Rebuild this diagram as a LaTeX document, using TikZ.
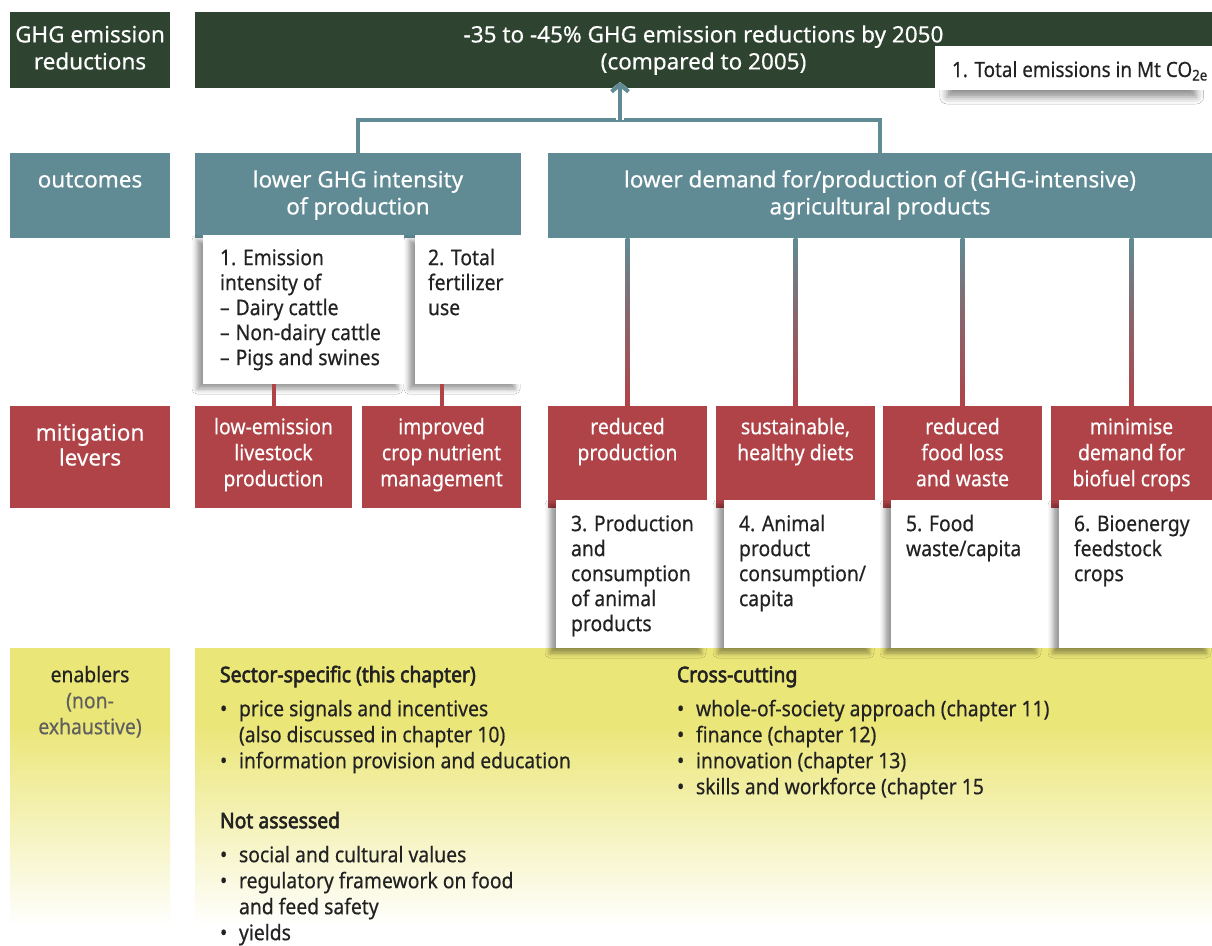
\documentclass[tikz,border=0pt]{standalone}
\usepackage{fontspec}
\setmainfont{Noto Sans}[FakeBold=0.4, BoldFont={Noto Sans}, BoldFeatures={FakeBold=2.6}]
\newfontfamily\condf{Noto Sans}[FakeStretch=0.9, FakeBold=0.4, BoldFont={Noto Sans}, BoldFeatures={FakeStretch=0.9, FakeBold=2.6}]
\usetikzlibrary{calc,arrows.meta,shadows.blur}
\definecolor{dkg}{RGB}{47,68,48}
\definecolor{tealc}{RGB}{96,139,148}
\definecolor{redc}{RGB}{176,67,72}
\definecolor{yelc}{RGB}{235,230,120}
\definecolor{txt}{RGB}{34,34,34}
\definecolor{greytxt}{RGB}{95,95,95}
\pgfdeclareverticalshading{ensh}{100bp}{color(0bp)=(white); color(28bp)=(white); color(45bp)=(yelc!50!white); color(62bp)=(yelc); color(100bp)=(yelc)}
\begin{document}
\begin{tikzpicture}[x=1pt,y=-1pt,
  every node/.style={inner sep=0pt, outer sep=0pt},
  box/.style={anchor=north west, draw=none},
  wbox/.style={anchor=north west, fill=white, blur shadow={shadow xshift=-6pt, shadow yshift=-5pt, shadow blur radius=5pt, shadow opacity=40}},
  head/.style={font=\fontsize{22.5}{27}\selectfont, text=white, align=center, anchor=north},
  redtxt/.style={font=\condf\fontsize{21.5}{26}\selectfont, text=white, align=center, anchor=north},
  wtxt/.style={font=\condf\fontsize{21.5}{25}\selectfont, text=txt, align=left, anchor=north west},
  entxt/.style={font=\condf\fontsize{21.5}{26}\selectfont, text=txt, align=left, anchor=north west},
  tline/.style={draw=tealc, line width=4pt},
  rline/.style={draw=redc, line width=4pt},
]
\useasboundingbox (0,0) rectangle (1212,945);
\fill[white] (0,0) rectangle (1212,945);

% row 1
\node[box, fill=dkg, minimum width=160pt, minimum height=76pt] (l1) at (10,12) {};
\node[box, fill=dkg, minimum width=1017pt, minimum height=76pt] (top) at (195,12) {};
% row 4 enablers
\node[box, shading=ensh, minimum width=160pt, minimum height=297pt] (l4) at (10,648) {};
\node[box, shading=ensh, minimum width=1017pt, minimum height=297pt] (en) at (195,648) {};
% row 3 red
\node[box, fill=redc, minimum width=160pt, minimum height=102pt] (l3) at (10,406) {};
\node[box, fill=redc, minimum width=157pt, minimum height=102pt] (m1) at (195,406) {};
\node[box, fill=redc, minimum width=159pt, minimum height=102pt] (m2) at (362,406) {};
\node[box, fill=redc, minimum width=159pt, minimum height=102pt] (m3) at (548,406) {};
\node[box, fill=redc, minimum width=159pt, minimum height=102pt] (m4) at (716,406) {};
\node[box, fill=redc, minimum width=159pt, minimum height=102pt] (m5) at (883,406) {};
\node[box, fill=redc, minimum width=161pt, minimum height=102pt] (m6) at (1051,406) {};
% row 2 teal
\node[box, fill=tealc, minimum width=160pt, minimum height=85pt] (l2) at (10,153) {};
\node[box, fill=tealc, minimum width=326pt, minimum height=85pt] (o1) at (195,153) {};
\node[box, fill=tealc, minimum width=664pt, minimum height=85pt] (o2) at (548,153) {};

% white indicator boxes
\node[anchor=north west, fill=white, blur shadow={shadow xshift=-2pt, shadow yshift=-10pt, shadow blur radius=8pt, shadow opacity=45, shadow scale=0.9}, minimum width=277pt, minimum height=44pt] (tot) at (935,46) {};
\node[wbox, minimum width=201pt, minimum height=149pt] (w1) at (203,235) {};
\node[wbox, minimum width=106pt, minimum height=149pt] (w2) at (415,235) {};
\node[wbox, minimum width=151pt, minimum height=148pt] (b3) at (556,500) {};
\node[wbox, minimum width=151pt, minimum height=148pt] (b4) at (724,500) {};
\node[wbox, minimum width=151pt, minimum height=148pt] (b5) at (891,500) {};
\node[wbox, minimum width=153pt, minimum height=148pt] (b6) at (1059,500) {};

% connectors
\coordinate (j) at (620,120);
\draw[tline] (o1.north) |- (j) -| (o2.north);
\draw[white, line width=8pt, -{Straight Barb[length=8pt, width=20pt, line width=8pt]}] (j) -- ($(j |- top.south)+(0,-6)$);
\draw[tline, -{Straight Barb[length=7pt, width=17pt, line width=4pt]}] (j) -- ($(j |- top.south)+(0,-6)$);
\draw[rline] (m1.north |- w1.south) -- (m1.north);
\draw[rline] (m2.north |- w2.south) -- (m2.north);
\foreach \m in {m3,m4,m5,m6}{
  \shade[top color=tealc, bottom color=redc, middle color=tealc!45!redc] ($(\m.north |- o2.south)+(-2,0)$) rectangle ($(\m.north)+(2,0)$);
}

% texts
\node[head] (tl1) at ($(l1.north)+(0,11.5)$) {\strut GHG emission\\reductions};
\node[head] (ttop) at ($(top.north)+(0,11.5)$) {\strut -35 to -45\% GHG emission reductions by 2050\\(compared to 2005)};
\node[font=\condf\fontsize{21}{25}\selectfont, text=txt, anchor=north west] (ttot) at ($(tot.north west)+(17,13.5)$) {\strut 1. Total emissions in Mt CO\textsubscript{2e}};
\node[head] (tl2) at ($(l2.north)+(0,15.5)$) {\strut outcomes};
\node[head] (to1) at ($(o1.north)+(0,15.5)$) {\strut lower GHG intensity\\of production};
\node[head] (to2) at ($(o2.north)+(0,15.5)$) {\strut lower demand for/production of (GHG-intensive)\\agricultural products};
\node[wtxt] (tw1) at ($(w1.north west)+(17,12.6)$) {\strut 1. Emission\\intensity of\\–\;Dairy cattle\\–\;Non-dairy cattle\\–\;Pigs and swines};
\node[wtxt] (tw2) at ($(w2.north west)+(13,12.6)$) {\strut 2. Total\\fertilizer\\use};
\node[head, font=\fontsize{22.5}{25}\selectfont] (tl3) at ($(l3.north)+(0,17)$) {\strut mitigation\\levers};
\node[redtxt] (tm1) at ($(m1.north)+(0,10)$) {\strut low-emission\\livestock\\production};
\node[redtxt] (tm2) at ($(m2.north)+(0,10)$) {\strut improved\\crop nutrient\\management};
\node[redtxt] (tm3) at ($(m3.north)+(0,10)$) {\strut reduced\\production};
\node[redtxt] (tm4) at ($(m4.north)+(0,10)$) {\strut sustainable,\\healthy diets};
\node[redtxt] (tm5) at ($(m5.north)+(0,10)$) {\strut reduced\\food loss\\and waste};
\node[redtxt] (tm6) at ($(m6.north)+(0,10)$) {\strut minimise\\demand for\\biofuel crops};
\node[wtxt] (tb3) at ($(b3.north west)+(15,13.6)$) {\strut 3. Production\\and\\consumption\\of animal\\products};
\node[wtxt] (tb4) at ($(b4.north west)+(15,13.6)$) {\strut 4. Animal\\product\\consumption/\\capita};
\node[wtxt] (tb5) at ($(b5.north west)+(15,13.6)$) {\strut 5. Food\\waste/capita};
\node[wtxt] (tb6) at ($(b6.north west)+(15,13.6)$) {\strut 6. Bioenergy\\feedstock\\crops};
\node[entxt, align=center, anchor=north] (tl4) at ($(l4.north)+(0,16)$) {\strut enablers\\\textcolor{greytxt}{(non-}\\\textcolor{greytxt}{exhaustive)}};
\node[entxt] (en1) at ($(en.north west)+(25,16)$) {\strut\textbf{Sector-specific (this chapter)}\\[8pt]
\makebox[19pt][l]{•}price signals and incentives\\
\hspace*{19pt}(also discussed in chapter 10)\\
\makebox[19pt][l]{•}information provision and education\\[34pt]
\textbf{Not assessed}\\[8pt]
\makebox[19pt][l]{•}social and cultural values\\
\makebox[19pt][l]{•}regulatory framework on food\\
\hspace*{19pt}and feed safety\\
\makebox[19pt][l]{•}yields};
\node[entxt] (en2) at ($(en.north west)+(482,16)$) {\strut\textbf{Cross-cutting}\\[8pt]
\makebox[19pt][l]{•}whole-of-society approach (chapter 11)\\
\makebox[19pt][l]{•}finance (chapter 12)\\
\makebox[19pt][l]{•}innovation (chapter 13)\\
\makebox[19pt][l]{•}skills and workforce (chapter 15};
\end{tikzpicture}
\end{document}
